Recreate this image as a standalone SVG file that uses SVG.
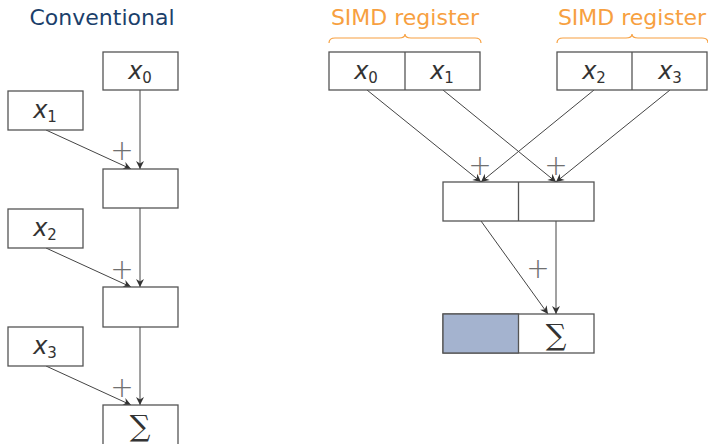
<svg xmlns="http://www.w3.org/2000/svg" width="708" height="444" viewBox="0 0 708 444">
  <style>
    .box { fill: #fff; stroke: #555; stroke-width: 1.3; }
    .div { stroke: #555; stroke-width: 1.3; }
    .edge { fill: none; stroke: #444; stroke-width: 1; marker-end: url(#arr); }
    .var { font-family: "DejaVu Sans", sans-serif; font-style: oblique; font-size: 24px; fill: #333; }
    .sub { font-family: "DejaVu Sans", sans-serif; font-size: 15px; fill: #333; font-style: normal; }
    .sum { font-family: "DejaVu Serif", "Liberation Serif", serif; font-size: 29px; fill: #333; text-anchor: middle; }
    .plus { font-family: "DejaVu Sans", sans-serif; font-size: 28px; font-weight: 200; fill: #707070; text-anchor: middle; }
    .title { font-family: "DejaVu Sans", sans-serif; font-size: 22px; text-anchor: middle; }
    .brace { fill: none; stroke: #f7a040; stroke-width: 1.2; }
  </style>
  <defs>
    <marker id="arr" markerWidth="10" markerHeight="10" refX="9" refY="5" orient="auto" markerUnits="userSpaceOnUse">
      <path d="M1,1 L9,5 L1,9 L3.5,5 Z" fill="#333"/>
    </marker>
  </defs>

  <!-- titles -->
  <text class="title" x="102" y="25" fill="#1b3f6b">Conventional</text>
  <text class="title" x="405" y="25" fill="#f7a040">SIMD register</text>
  <text class="title" x="632" y="25" fill="#f7a040">SIMD register</text>

  <!-- braces over registers -->
  <path class="brace" d="M329,43 Q329,38 335,38 L399,38 Q405,38 405,34 Q405,38 411,38 L475,38 Q481,38 481,43"/>
  <path class="brace" d="M557,43 Q557,38 563,38 L626,38 Q632,38 632,34 Q632,38 638,38 L702,38 Q708,38 708,43"/>

  <!-- connectors -->
  <g id="connectors">
    <line class="edge" x1="140" y1="90" x2="140" y2="169"/>
    <line class="edge" x1="46" y1="130" x2="131" y2="169"/>
    <line class="edge" x1="140" y1="208" x2="140" y2="287"/>
    <line class="edge" x1="46" y1="248" x2="131" y2="287"/>
    <line class="edge" x1="140" y1="327" x2="140" y2="405"/>
    <line class="edge" x1="46" y1="366" x2="131" y2="405"/>

    <line class="edge" x1="367" y1="90" x2="481" y2="182"/>
    <line class="edge" x1="443" y1="90" x2="556" y2="182"/>
    <line class="edge" x1="594" y1="90" x2="481" y2="182"/>
    <line class="edge" x1="670" y1="90" x2="556" y2="182"/>
    <line class="edge" x1="481" y1="221" x2="548" y2="314"/>
    <line class="edge" x1="556" y1="221" x2="556" y2="314"/>
  </g>

  <!-- plus labels -->
  <text class="plus" x="122" y="160">+</text>
  <text class="plus" x="122" y="279">+</text>
  <text class="plus" x="122" y="397">+</text>
  <text class="plus" x="480" y="175">+</text>
  <text class="plus" x="556" y="175">+</text>
  <text class="plus" x="538" y="278">+</text>

  <!-- conventional column -->
  <g id="c-x0">
    <rect class="box" x="103" y="52" width="75" height="38"/>
    <text x="140" y="79" text-anchor="middle"><tspan class="var">x</tspan><tspan class="sub" dy="4">0</tspan></text>
  </g>
  <g id="c-x1">
    <rect class="box" x="8" y="91" width="75" height="39"/>
    <text x="45" y="118" text-anchor="middle"><tspan class="var">x</tspan><tspan class="sub" dy="4">1</tspan></text>
  </g>
  <g id="c-acc1">
    <rect class="box" x="103" y="169" width="75" height="39"/>
  </g>
  <g id="c-x2">
    <rect class="box" x="8" y="209" width="75" height="39"/>
    <text x="45" y="236" text-anchor="middle"><tspan class="var">x</tspan><tspan class="sub" dy="4">2</tspan></text>
  </g>
  <g id="c-acc2">
    <rect class="box" x="103" y="287" width="75" height="40"/>
  </g>
  <g id="c-x3">
    <rect class="box" x="8" y="327" width="75" height="39"/>
    <text x="45" y="354" text-anchor="middle"><tspan class="var">x</tspan><tspan class="sub" dy="4">3</tspan></text>
  </g>
  <g id="c-sum">
    <rect class="box" x="103" y="405" width="75" height="40"/>
    <text class="sum" x="140" y="436">∑</text>
  </g>

  <!-- SIMD column -->
  <g id="reg-a">
    <rect class="box" x="329" y="52" width="151" height="38"/>
    <line class="div" x1="405" y1="52" x2="405" y2="90"/>
    <text x="366" y="79" text-anchor="middle"><tspan class="var">x</tspan><tspan class="sub" dy="4">0</tspan></text>
    <text x="442" y="79" text-anchor="middle"><tspan class="var">x</tspan><tspan class="sub" dy="4">1</tspan></text>
  </g>
  <g id="reg-b">
    <rect class="box" x="557" y="52" width="150" height="38"/>
    <line class="div" x1="632" y1="52" x2="632" y2="90"/>
    <text x="594" y="79" text-anchor="middle"><tspan class="var">x</tspan><tspan class="sub" dy="4">2</tspan></text>
    <text x="670" y="79" text-anchor="middle"><tspan class="var">x</tspan><tspan class="sub" dy="4">3</tspan></text>
  </g>
  <g id="reg-acc">
    <rect class="box" x="443" y="182" width="151" height="39"/>
    <line class="div" x1="518.5" y1="182" x2="518.5" y2="221"/>
  </g>
  <g id="reg-sum">
    <rect class="box" x="443" y="314" width="151" height="39"/>
    <rect x="443" y="314" width="75.5" height="39" fill="#a4b3cf" stroke="#555" stroke-width="1.3"/>
    <text class="sum" x="556" y="345">∑</text>
  </g>
</svg>
